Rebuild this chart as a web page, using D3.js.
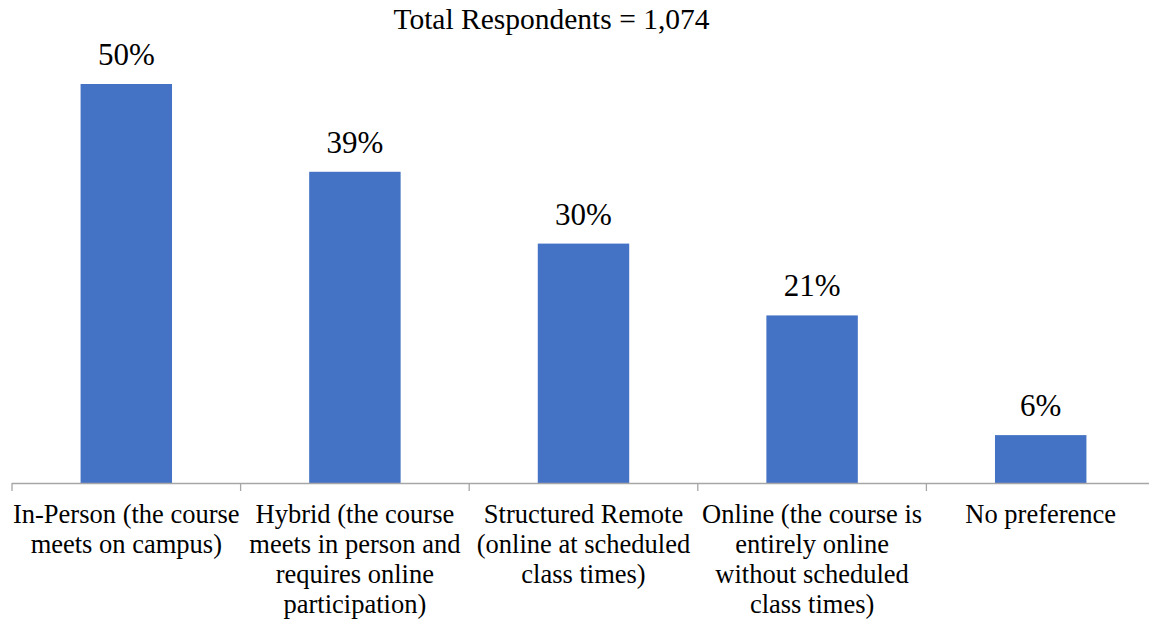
<!DOCTYPE html>
<html>
<head>
<meta charset="utf-8">
<script src="https://cdn.jsdelivr.net/npm/d3@7"></script>
<style>
  body { margin: 0; background: #fff; }
</style>
</head>
<body>
<svg id="chart" width="1149" height="624"></svg>
<script>
const title = "Total Respondents = 1,074";
const categories = ["In-Person", "Hybrid", "Structured Remote", "Online", "No preference"];
const values = [50, 39, 30, 21, 6];
const tickLabels = [
  ["In-Person (the course", "meets on campus)"],
  ["Hybrid (the course", "meets in person and", "requires online", "participation)"],
  ["Structured Remote", "(online at scheduled", "class times)"],
  ["Online (the course is", "entirely online", "without scheduled", "class times)"],
  ["No preference"]
];

const font = "'Liberation Serif', 'DejaVu Serif', serif";
const svg = d3.select("#chart").attr("font-family", font);
const baseY = 483;

const x = d3.scaleBand()
  .domain(categories)
  .range([12, 1155])
  .paddingInner(0.6)
  .paddingOuter(0.3);

const y = d3.scaleLinear()
  .domain([0, 50])
  .range([baseY, 84]);

svg.append("text")
  .attr("x", 551.5)
  .attr("y", 29)
  .attr("text-anchor", "middle")
  .attr("font-size", 29.5)
  .text(title);

svg.selectAll("rect.bar")
  .data(values)
  .join("rect")
  .attr("class", "bar")
  .attr("x", (d, i) => x(categories[i]))
  .attr("y", d => y(d))
  .attr("width", x.bandwidth())
  .attr("height", d => baseY - y(d))
  .attr("fill", "#4472C4");

svg.selectAll("text.val")
  .data(values)
  .join("text")
  .attr("class", "val")
  .attr("x", (d, i) => x(categories[i]) + x.bandwidth() / 2)
  .attr("y", d => y(d) - 19)
  .attr("text-anchor", "middle")
  .attr("font-size", 31)
  .text(d => d + "%");

// axis line and boundary ticks
const step = x.step();
const x0 = x.range()[0];
svg.append("line")
  .attr("x1", x0).attr("x2", x.range()[1])
  .attr("y1", baseY + 0.5).attr("y2", baseY + 0.5)
  .attr("stroke", "#a6a6a6").attr("stroke-width", 1.3);

svg.selectAll("line.tick")
  .data(d3.range(categories.length + 1))
  .join("line")
  .attr("class", "tick")
  .attr("x1", i => x0 + i * step).attr("x2", i => x0 + i * step)
  .attr("y1", baseY).attr("y2", baseY + 8)
  .attr("stroke", "#a6a6a6").attr("stroke-width", 1.3);

const lab = svg.selectAll("text.cat")
  .data(tickLabels)
  .join("text")
  .attr("class", "cat")
  .attr("text-anchor", "middle")
  .attr("font-size", 26.5);

lab.selectAll("tspan")
  .data((d, i) => d.map(s => ({ s, i })))
  .join("tspan")
  .attr("x", d => x(categories[d.i]) + x.bandwidth() / 2)
  .attr("y", (d, j) => 523 + j * 30)
  .text(d => d.s);
</script>
</body>
</html>
